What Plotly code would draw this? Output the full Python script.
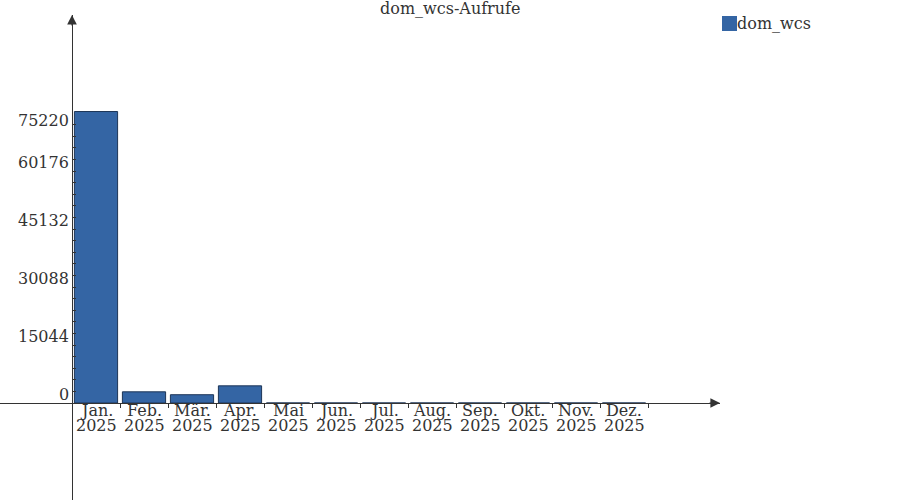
import plotly.graph_objects as go

months = ["Jan.", "Feb.", "Mär.", "Apr.", "Mai", "Jun.", "Jul.", "Aug.", "Sep.", "Okt.", "Nov.", "Dez."]
years = ["2025"] * 12
values = [75600, 2900, 2150, 4450, 0, 0, 0, 0, 0, 0, 0, 0]
y_labels = [0, 15044, 30088, 45132, 60176, 75220]
minor_step = 15044 / 5
minor_ticks = [minor_step * k for k in range(25)]

FONT = "DejaVu Serif"
TXT = "#333333"
BAR = "#3465a4"
EDGE = "#1d3557"

px_per_unit = 15044 / 58.0
y_top = 388 * px_per_unit
y_bot = -97 * px_per_unit

fig = go.Figure()
fig.add_trace(go.Bar(
    x=list(range(12)), y=values, name="dom_wcs",
    marker=dict(color=BAR, line=dict(color=EDGE, width=1)),
    width=0.9, showlegend=False,
))

ann = []
for v in y_labels:
    yy = min(v, minor_ticks[-1])
    ann.append(dict(x=-0.5, y=yy, xref="x", yref="y", text=str(v), showarrow=False,
                    xanchor="right", yanchor="bottom" if v == yy else "middle",
                    xshift=-1, yshift=-3 if v == yy else 4,
                    font=dict(family=FONT, size=16, color=TXT)))
for i, (m, yr) in enumerate(zip(months, years)):
    ann.append(dict(x=i, y=0, xref="x", yref="y", text=m, showarrow=False,
                    xanchor="center", yanchor="top", yshift=4,
                    font=dict(family=FONT, size=16, color=TXT)))
    ann.append(dict(x=i, y=0, xref="x", yref="y", text=yr, showarrow=False,
                    xanchor="center", yanchor="top", yshift=-11,
                    font=dict(family=FONT, size=16, color=TXT)))
ann.append(dict(x=-0.5, y=y_top, xref="x", yref="y", ax=0, ay=12, text="",
                showarrow=True, arrowhead=2, arrowsize=1.6, arrowwidth=1.2, arrowcolor=TXT))
ann.append(dict(x=13, y=0, xref="x", yref="y", ax=-12, ay=0, text="",
                showarrow=True, arrowhead=2, arrowsize=1.6, arrowwidth=1.2, arrowcolor=TXT))
ann.append(dict(x=450 / 720, y=(500 - 8) / 485, xref="paper", yref="paper",
                text="dom_wcs-Aufrufe", showarrow=False, xanchor="center", yanchor="middle",
                font=dict(family=FONT, size=16, color=TXT)))
ann.append(dict(x=737 / 720, y=(500 - 23.5) / 485, xref="paper", yref="paper",
                text="dom_wcs", showarrow=False, xanchor="left", yanchor="middle",
                font=dict(family=FONT, size=16, color=TXT), xshift=-2))

shapes = [dict(type="rect", xref="paper", yref="paper",
               x0=722 / 720, x1=737 / 720, y0=(500 - 31) / 485, y1=(500 - 16) / 485,
               fillcolor=BAR, line=dict(width=0))]

fig.update_layout(
    width=900, height=500,
    margin=dict(l=0, r=180, t=15, b=0),
    paper_bgcolor="white", plot_bgcolor="white",
    bargap=0.1,
    annotations=ann, shapes=shapes,
    xaxis=dict(range=[-2, 13], showgrid=False, zeroline=False,
               showline=True, linecolor=TXT, linewidth=1.2,
               anchor="free", position=97 / 485,
               tickmode="array", tickvals=[i + 0.5 for i in range(12)],
               ticktext=[""] * 12, ticks="outside", ticklen=4, tickcolor=TXT),
    yaxis=dict(range=[y_bot, y_top], showgrid=False, zeroline=False,
               showline=True, linecolor=TXT, linewidth=1.2,
               anchor="free", position=72 / 720,
               tickmode="array", tickvals=minor_ticks, ticktext=[""] * len(minor_ticks),
               ticks="inside", ticklen=3, tickcolor=TXT),
    showlegend=False,
)

fig.write_html("out.html",
               config={"displayModeBar": False},
               post_script="document.body.style.margin='0';document.body.style.overflow='hidden';")
